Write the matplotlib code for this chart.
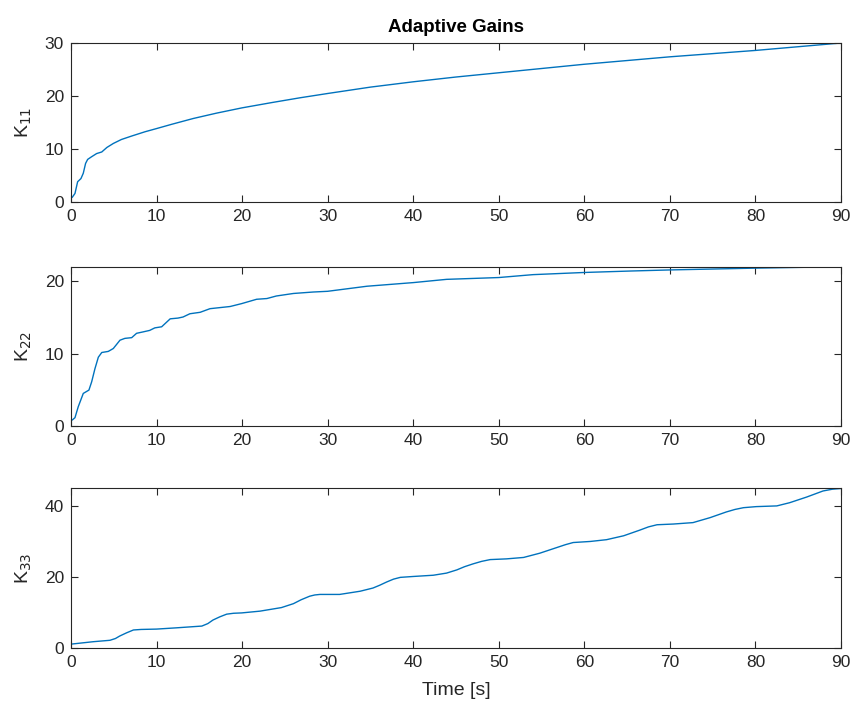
import numpy as np
import matplotlib
matplotlib.use("Agg")
import matplotlib.pyplot as plt

plt.rcParams["font.family"] = ["Liberation Sans", "DejaVu Sans"]

# Adaptive gain K11 over time
t11 = [0.0, 0.15, 0.47, 0.78, 1.17, 1.44, 1.71, 1.95, 2.41, 3.0, 3.6, 4.2, 4.95,
       5.9, 7.1, 8.65, 10.0, 11.76, 14.3, 17.0, 20.0, 23.5, 26.8, 30.0, 35.0,
       40.0, 45.0, 50.0, 55.0, 60.0, 65.0, 70.0, 75.0, 80.0, 85.0, 90.0]
k11 = [0.9, 0.97, 1.7, 3.9, 4.5, 5.5, 7.35, 8.1, 8.6, 9.2, 9.5, 10.35, 11.1,
       11.85, 12.5, 13.3, 13.9, 14.7, 15.8, 16.8, 17.8, 18.8, 19.7, 20.5, 21.7,
       22.7, 23.6, 24.4, 25.2, 26.0, 26.7, 27.4, 28.0, 28.6, 29.3, 30.0]

# Adaptive gain K22 over time
t22 = [0.0, 0.15, 0.47, 0.85, 1.44, 2.1, 2.42, 2.8, 3.2, 3.6, 4.36, 4.95, 5.73,
       6.3, 7.1, 7.67, 8.45, 9.2, 9.8, 10.6, 11.6, 12.5, 13.1, 13.9, 15.1,
       16.25, 18.6, 19.95, 21.7, 22.9, 24.0, 26.0, 28.3, 30.0, 34.6, 40.0,
       43.9, 50.0, 54.0, 60.0, 65.4, 70.0, 80.0, 90.0]
k22 = [0.8, 0.83, 1.15, 2.66, 4.5, 4.96, 6.1, 7.9, 9.5, 10.15, 10.3, 10.7, 11.85,
       12.1, 12.2, 12.8, 13.0, 13.2, 13.55, 13.7, 14.8, 14.9, 15.05, 15.5, 15.7,
       16.2, 16.5, 16.9, 17.5, 17.6, 17.95, 18.3, 18.5, 18.6, 19.3, 19.8,
       20.25, 20.5, 20.9, 21.2, 21.4, 21.55, 21.8, 22.0]

# Adaptive gain K33 over time
t33 = [0.0, 0.12, 2.6, 4.56, 5.2, 5.7, 6.5, 7.3, 8.2, 10.0, 12.3, 15.3, 16.0,
       16.6, 17.4, 18.2, 19.0, 19.95, 22.1, 24.6, 26.0, 26.9, 27.9, 28.5, 29.1,
       31.4, 33.8, 35.3, 36.1, 36.9, 37.7, 38.5, 40.0, 42.35, 43.9, 45.1, 46.0,
       47.0, 48.0, 49.0, 50.9, 52.9, 54.8, 56.8, 57.8, 58.7, 60.7, 62.6, 64.6,
       66.5, 67.5, 68.5, 70.4, 72.7, 74.7, 76.6, 77.6, 78.6, 80.1, 82.5, 84.0,
       86.0, 87.9, 89.0, 90.0]
k33 = [1.2, 1.25, 1.9, 2.3, 2.8, 3.5, 4.4, 5.2, 5.35, 5.45, 5.8, 6.3, 7.0,
       8.0, 8.9, 9.65, 9.9, 10.0, 10.5, 11.5, 12.6, 13.7, 14.7, 15.05, 15.2,
       15.2, 16.1, 17.0, 17.8, 18.7, 19.5, 20.0, 20.25, 20.6, 21.2, 22.1, 23.0,
       23.8, 24.5, 25.0, 25.2, 25.6, 26.8, 28.4, 29.2, 29.8, 30.1, 30.6, 31.7,
       33.3, 34.2, 34.8, 35.0, 35.4, 36.8, 38.4, 39.1, 39.6, 39.9, 40.1, 41.0,
       42.6, 44.3, 44.8, 45.0]

y_labels = ["K$_{11}$", "K$_{22}$", "K$_{33}$"]
y_ticks = [[0, 10, 20, 30], [0, 10, 20], [0, 20, 40]]
x_ticks = list(range(0, 91, 10))

line_color = "#0072BD"
axis_color = "#262626"

fig = plt.figure(figsize=(8.57, 7.19), dpi=100)
positions = [
    [0.0828, 0.7184, 0.8985, 0.2218],
    [0.0828, 0.4075, 0.8985, 0.2216],
    [0.0828, 0.0981, 0.8985, 0.2225],
]
series = [(t11, k11), (t22, k22), (t33, k33)]

for pos, (t, k), lab, yt in zip(positions, series, y_labels, y_ticks):
    ax = fig.add_axes(pos)
    ax.plot(t, k, color=line_color, lw=1.0)
    ax.set_xlim(0, 90)
    ax.set_ylim(0, max(k))
    ax.set_xticks(x_ticks)
    ax.set_yticks(yt)
    ax.tick_params(direction="in", top=True, right=True, length=5,
                   width=0.8, colors=axis_color, labelsize=12.5, pad=5)
    for s in ax.spines.values():
        s.set_color(axis_color)
        s.set_linewidth(0.8)
    ax.set_ylabel(lab, fontsize=14, color=axis_color, labelpad=8)
    if lab == y_labels[0]:
        ax.set_title("Adaptive Gains", fontsize=13.5, fontweight="bold",
                     color="black", pad=8)
    if lab == y_labels[-1]:
        ax.set_xlabel("Time [s]", fontsize=14, color=axis_color, labelpad=8)

fig.savefig("out.png", dpi=100, facecolor="white")
